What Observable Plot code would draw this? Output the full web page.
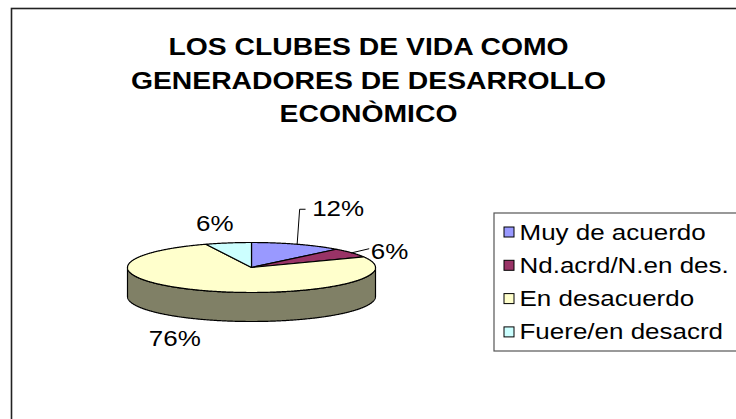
<!DOCTYPE html>
<html><head><meta charset="utf-8">
<script src="https://cdn.jsdelivr.net/npm/d3@7"></script>
<script src="https://cdn.jsdelivr.net/npm/@observablehq/plot@0.6"></script>
<style>
html,body{margin:0;padding:0;background:#fff;}
#chart{position:relative;width:736px;height:419px;overflow:hidden;}
</style></head><body><div id="chart"></div>
<script>
// ---- data ----
const categories = ["Muy de acuerdo", "Nd.acrd/N.en des.", "En desacuerdo", "Fuere/en desacrd"];
const values = [12, 6, 76, 6];
const labels = ["12%", "6%", "76%", "6%"];
const titleLines = ["LOS CLUBES DE VIDA COMO", "GENERADORES DE DESARROLLO", "ECONÒMICO"];

// ---- styles / layout ----
const colors = ["#9999FF", "#993366", "#FFFFCC", "#CCFFFF"];
const sideColors = colors.map(c => { const k = d3.rgb(c); return d3.rgb(k.r * 0.5, k.g * 0.5, k.b * 0.5).formatHex(); });
const W = 736, H = 419;
const layout = {
  frame: {x1: 11.5, y1: 8.5, x2: 900, y2: 700},
  title: {x: 368, y0: 47, dy: 33.5, size: 24},
  pie: {cx: 251, cy: 267, rx: 124, ry: 25, depth: 29},
  legend: {x1: 494, y1: 213, x2: 900, y2: 351, swatchX: 504, swatch: 10, textX: 519, y0: 232, dy: 33.3},
  labelOffsets: [[15, -35], [19, -1], [-31, 48], [-13.5, -19]],
  leaders: [true, true, false, false],
  labelSize: 22,
  legendSize: 22,
  stretch: 1.18
};
const font = "Liberation Sans, Arial, Helvetica, sans-serif";

// ---- geometry from data ----
const {cx, cy, rx, ry, depth} = layout.pie;
const pt = (a, dy = 0) => [cx + rx * Math.sin(a), cy - ry * Math.cos(a) + dy];
const arcs = d3.pie().sort(null).startAngle(0).endAngle(2 * Math.PI)(values);
const arcPts = (a0, a1, dy = 0) => {
  const n = Math.max(2, Math.ceil((a1 - a0) / (Math.PI / 360)));
  return d3.range(n + 1).map(i => pt(a0 + (a1 - a0) * i / n, dy));
};
const topRows = [], sideRows = [];
arcs.forEach((d, i) => {
  const key = categories[i];
  [[cx, cy], ...arcPts(d.startAngle, d.endAngle)].forEach(([x, y]) => topRows.push({key, x, y}));
  const lo = Math.max(d.startAngle, Math.PI / 2), hi = Math.min(d.endAngle, 3 * Math.PI / 2);
  if (hi > lo) {
    const skey = key + " (lado)";
    [...arcPts(lo, hi), ...arcPts(lo, hi, depth).reverse()].forEach(([x, y]) => sideRows.push({key: skey, x, y}));
  }
});
const labelRows = arcs.map((d, i) => {
  const mid = (d.startAngle + d.endAngle) / 2;
  const [ex, ey] = pt(mid);
  const [ox, oy] = layout.labelOffsets[i];
  return {i, text: labels[i], ex, ey, x: ex + ox, y: ey + oy, start: ox > 0};
});
const leaderRows = [];
labelRows.forEach(l => {
  if (!layout.leaders[l.i]) return;
  if (l.ey - l.y > 15) {
    leaderRows.push({k: l.i, x: l.ex, y: l.ey}, {k: l.i, x: l.ex + 2.5, y: l.y}, {k: l.i, x: l.x - 7, y: l.y});
  } else {
    leaderRows.push({k: l.i, x: l.ex, y: l.ey}, {k: l.i, x: l.x - 2, y: l.y - 3});
  }
});
const L = layout.legend;
const legendRows = categories.map((c, i) => ({c, y: L.y0 + i * L.dy}));

const colorDomain = [...categories, ...categories.map(c => c + " (lado)")];
const colorRange = [...colors, ...sideColors];

const chart = Plot.plot({
  width: W, height: H,
  margin: 0,
  x: {domain: [0, W], range: [0, W], axis: null},
  y: {domain: [0, H], range: [0, H], axis: null},
  color: {type: "ordinal", domain: colorDomain, range: colorRange},
  style: {fontFamily: font, background: "#fff"},
  marks: [
    Plot.rect([layout.frame], {x1: "x1", y1: "y1", x2: "x2", y2: "y2", fill: "none", stroke: "#222", strokeWidth: 1.6}),
    Plot.text(titleLines, {x: () => layout.title.x, y: (d, i) => layout.title.y0 + i * layout.title.dy, text: d => d,
      fontSize: layout.title.size, fontWeight: "bold", fill: "#000", className: "stretch"}),
    Plot.line(sideRows, {x: "x", y: "y", z: "key", fill: "key", stroke: "#000", strokeWidth: 1.2, curve: "linear-closed"}),
    Plot.line(topRows, {x: "x", y: "y", z: "key", fill: "key", stroke: "#000", strokeWidth: 1.2, curve: "linear-closed"}),
    Plot.line(leaderRows, {x: "x", y: "y", z: "k", stroke: "#000", strokeWidth: 1}),
    Plot.text(labelRows.filter(d => d.start), {x: "x", y: "y", text: "text", textAnchor: "start", fontSize: layout.labelSize, fill: "#000", className: "stretch"}),
    Plot.text(labelRows.filter(d => !d.start), {x: "x", y: "y", text: "text", textAnchor: "middle", fontSize: layout.labelSize, fill: "#000", className: "stretch"}),
    Plot.rect([L], {x1: "x1", y1: "y1", x2: "x2", y2: "y2", fill: "#fff", stroke: "#555", strokeWidth: 1.2}),
    Plot.rect(legendRows, {x1: () => L.swatchX, x2: () => L.swatchX + L.swatch, y1: d => d.y - L.swatch / 2, y2: d => d.y + L.swatch / 2,
      fill: "c", stroke: "#000", strokeWidth: 1}),
    Plot.text(legendRows, {x: () => L.textX, y: "y", text: "c", textAnchor: "start", fontSize: layout.legendSize, fill: "#000", className: "stretch"})
  ]
});
document.getElementById("chart").appendChild(chart);
chart.querySelectorAll("g.stretch text").forEach(t => {
  const w = t.getComputedTextLength();
  t.setAttribute("textLength", (w * layout.stretch).toFixed(1));
  t.setAttribute("lengthAdjust", "spacingAndGlyphs");
});
</script>
</body></html>
